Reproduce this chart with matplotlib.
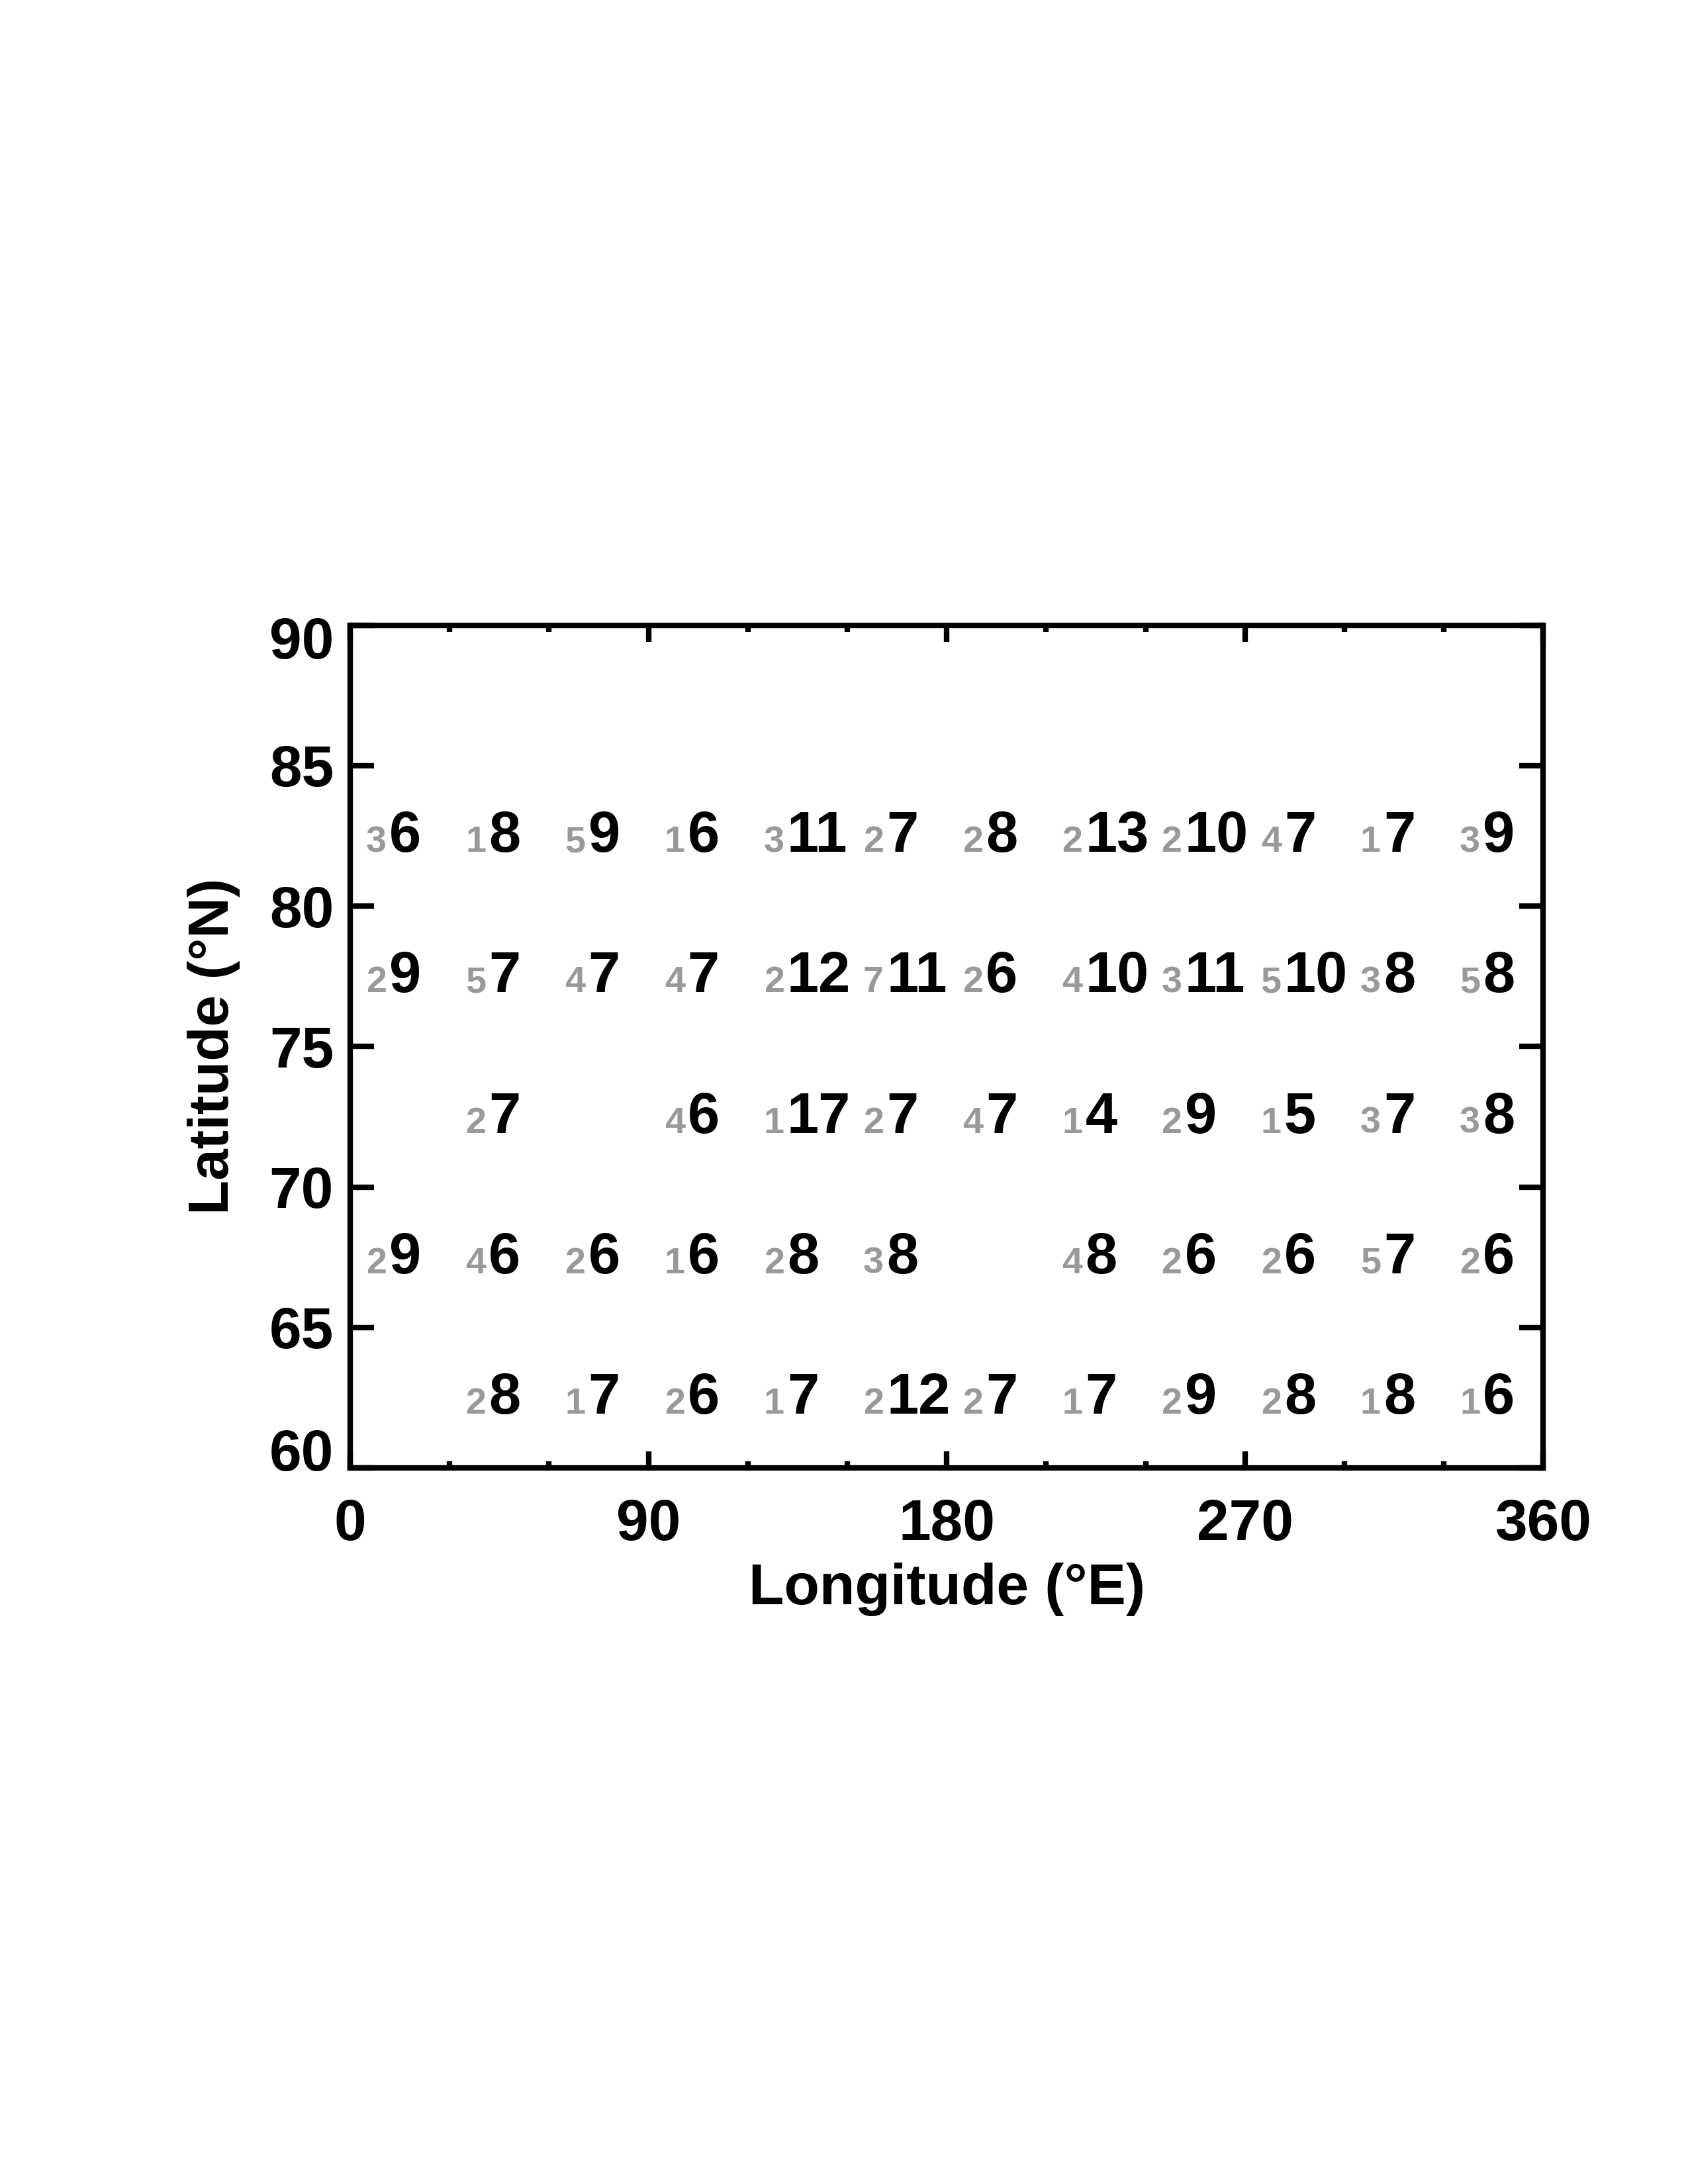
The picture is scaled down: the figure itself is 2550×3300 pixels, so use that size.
import matplotlib
matplotlib.use("Agg")
import matplotlib.pyplot as plt
from matplotlib.ticker import MultipleLocator
from matplotlib.transforms import ScaledTranslation

plt.rcParams['font.family'] = ['Liberation Sans', 'DejaVu Sans']
plt.rcParams['font.weight'] = 'bold'

# grid cells: 30 deg longitude x 5 deg latitude
lon_centers = [15, 45, 75, 105, 135, 165, 195, 225, 255, 285, 315, 345]
lat_centers = [82.5, 77.5, 72.5, 67.5, 62.5]

# small grey numbers (None = empty cell)
grey_vals = [
    [3, 1, 5, 1, 3, 2, 2, 2, 2, 4, 1, 3],
    [2, 5, 4, 4, 2, 7, 2, 4, 3, 5, 3, 5],
    [None, 2, None, 4, 1, 2, 4, 1, 2, 1, 3, 3],
    [2, 4, 2, 1, 2, 3, None, 4, 2, 2, 5, 2],
    [None, 2, 1, 2, 1, 2, 2, 1, 2, 2, 1, 1],
]
# big black numbers
black_vals = [
    [6, 8, 9, 6, 11, 7, 8, 13, 10, 7, 7, 9],
    [9, 7, 7, 7, 12, 11, 6, 10, 11, 10, 8, 8],
    [None, 7, None, 6, 17, 7, 7, 4, 9, 5, 7, 8],
    [9, 6, 6, 6, 8, 8, None, 8, 6, 6, 7, 6],
    [None, 8, 7, 6, 7, 12, 7, 7, 9, 8, 8, 6],
]

xticks = [0, 90, 180, 270, 360]
yticks = [60, 65, 70, 75, 80, 85, 90]

fig = plt.figure(figsize=(8.5, 11), dpi=300)
ax = fig.add_axes([0.2075, 0.3279, 0.7067, 0.3858])

for i, lat in enumerate(lat_centers):
    for j, lon in enumerate(lon_centers):
        g = grey_vals[i][j]
        b = black_vals[i][j]
        if b is None:
            continue
        ax.text(lon - 4.0, lat - 0.57, str(g), color='#999999', fontsize=13.4,
                fontweight='bold', ha='right', va='baseline')
        ax.text(lon - 3.2, lat - 0.57, str(b), color='black', fontsize=20.8,
                fontweight='bold', ha='left', va='baseline')

ax.set_xlim(0, 360)
ax.set_ylim(60, 90)
ax.set_xticks(xticks)
ax.set_yticks(yticks)
ax.xaxis.set_minor_locator(MultipleLocator(30))
ax.tick_params(axis='x', which='major', direction='in', length=6, width=2,
               top=True, bottom=True, labelsize=21, pad=11)
ax.tick_params(axis='x', which='minor', direction='in', length=2.4, width=2,
               top=True, bottom=True)
ax.tick_params(axis='y', which='major', direction='in', length=8.6, width=2,
               left=True, right=True, labelsize=21, pad=6)
for s in ax.spines.values():
    s.set_linewidth(2)

# end labels of the y axis sit inside the axis range, as in the original
ylabels = ax.get_yticklabels()
ylabels[0].set_transform(ylabels[0].get_transform() +
                         ScaledTranslation(0, 6.5 / 72, fig.dpi_scale_trans))
ylabels[-1].set_transform(ylabels[-1].get_transform() +
                          ScaledTranslation(0, -4.5 / 72, fig.dpi_scale_trans))

ax.set_xlabel('Longitude (°E)', fontsize=21, fontweight='bold', labelpad=4)
ax.set_ylabel('Latitude (°N)', fontsize=20.5, fontweight='bold')
ax.yaxis.set_label_coords(-0.092, 0.5)

fig.savefig('out.png', dpi=300)
